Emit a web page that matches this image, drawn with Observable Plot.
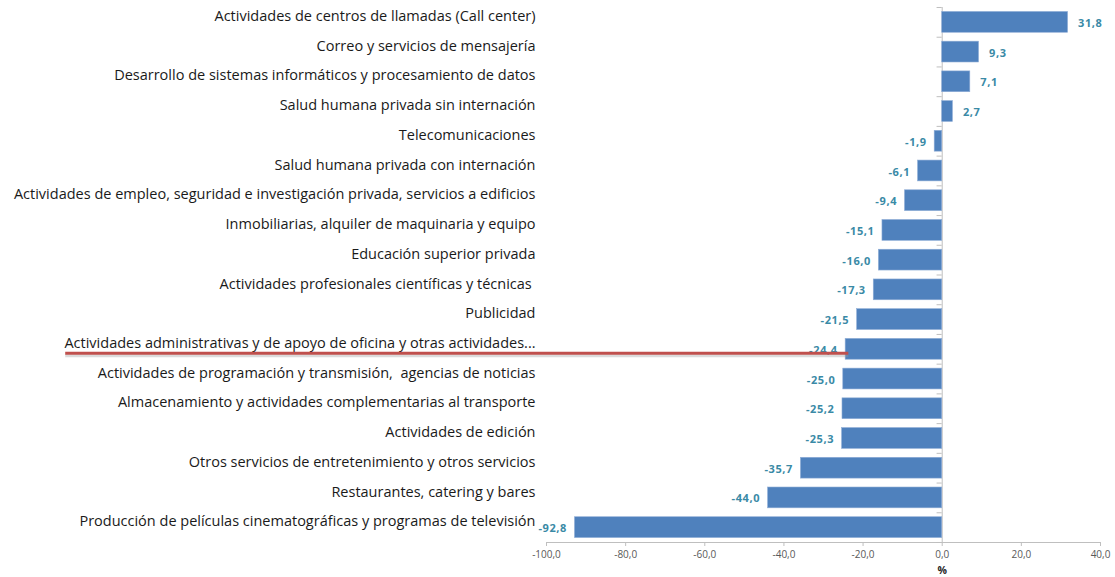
<!DOCTYPE html>
<html>
<head>
<meta charset="utf-8">
<script src="https://cdn.jsdelivr.net/npm/d3@7"></script>
<script src="https://cdn.jsdelivr.net/npm/@observablehq/plot@0.6"></script>
<style>
  html, body { margin: 0; padding: 0; background: #fff; }
  #chart svg { display: block; }
  .vlabel text { letter-spacing: 0.6px; }
</style>
</head>
<body>
<div id="chart"></div>
<script>
const categories = [
  "Actividades de centros de llamadas (Call center)",
  "Correo y servicios de mensajería",
  "Desarrollo de sistemas informáticos y procesamiento de datos",
  "Salud humana privada sin internación",
  "Telecomunicaciones",
  "Salud humana privada con internación",
  "Actividades de empleo, seguridad e investigación privada, servicios a edificios",
  "Inmobiliarias, alquiler de maquinaria y equipo",
  "Educación superior privada",
  "Actividades profesionales científicas y técnicas ",
  "Publicidad",
  "Actividades administrativas y de apoyo de oficina y otras actividades...",
  "Actividades de programación y transmisión,  agencias de noticias",
  "Almacenamiento y actividades complementarias al transporte",
  "Actividades de edición",
  "Otros servicios de entretenimiento y otros servicios",
  "Restaurantes, catering y bares",
  "Producción de películas cinematográficas y programas de televisión"
];
const values = [31.8, 9.3, 7.1, 2.7, -1.9, -6.1, -9.4, -15.1, -16.0, -17.3, -21.5, -24.4, -25.0, -25.2, -25.3, -35.7, -44.0, -92.8];
const xTicks = [-100, -80, -60, -40, -20, 0, 20, 40];
const axisTitle = "%";
const highlighted = "Actividades administrativas y de apoyo de oficina y otras actividades...";
const highlightFrom = -221.5;
const highlightTo = -23.6;

const data = categories.map((c, i) => ({category: c, value: values[i]}));
const positives = data.filter(d => d.value >= 0);
const negatives = data.filter(d => d.value < 0);
const fmt = v => v.toFixed(1).replace(".", ",");

const width = 1115, height = 577;
const marginTop = 7, marginBottom = 35;
const step = (height - marginTop - marginBottom) / categories.length;

const labelStyle = {fill: "#3A8AA6", fontWeight: "bold", fontSize: 11, className: "vlabel", dy: 1};

const chart = Plot.plot({
  width, height,
  marginLeft: 546, marginRight: 15, marginTop, marginBottom,
  style: {fontFamily: "'Open Sans', sans-serif", background: "#fff"},
  x: {domain: [-100, 40]},
  y: {domain: categories, paddingInner: 0.3, paddingOuter: 0.15, round: false},
  marks: [
    Plot.frame({anchor: "bottom", stroke: "#BFBFBF"}),
    Plot.ruleX([0], {stroke: "#BFBFBF"}),
    Plot.ruleY(categories, {y: d => d, x1: -1.3, x2: 0, dy: -step / 2, stroke: "#BFBFBF"}),
    Plot.ruleY(categories.slice(-1), {y: d => d, x1: -1.3, x2: 0, dy: step / 2, stroke: "#BFBFBF"}),
    Plot.barX(data, {y: "category", x: "value", fill: "#4F81BD", stroke: "#8EACD6", strokeWidth: 0.6}),
    Plot.text(positives, {y: "category", x: "value", text: d => fmt(d.value), textAnchor: "start", dx: 10, ...labelStyle}),
    Plot.text(negatives, {y: "category", x: "value", text: d => fmt(d.value), textAnchor: "end", dx: -8, ...labelStyle}),
    Plot.axisY({tickSize: 0, tickPadding: 11, dy: -6, fontSize: 14.5, fill: "#1A1A1A", label: null}),
    Plot.axisX({ticks: xTicks, tickFormat: fmt, tickSize: 4, tickPadding: 4, fontSize: 10, fill: "#595959", stroke: "#BFBFBF", label: null}),
    Plot.text([axisTitle], {x: 0, frameAnchor: "bottom", dy: 31, fontWeight: "bold", fontSize: 10.5, fill: "#262626"}),
    Plot.ruleY([highlighted], {y: d => d, x1: highlightFrom, x2: highlightTo, dy: 6.5, stroke: "#999", strokeWidth: 3, strokeOpacity: 0.35}),
    Plot.ruleY([highlighted], {y: d => d, x1: highlightFrom, x2: highlightTo, dy: 4, stroke: "#C0504D", strokeWidth: 3})
  ]
});
document.getElementById("chart").appendChild(chart);
</script>
</body>
</html>
